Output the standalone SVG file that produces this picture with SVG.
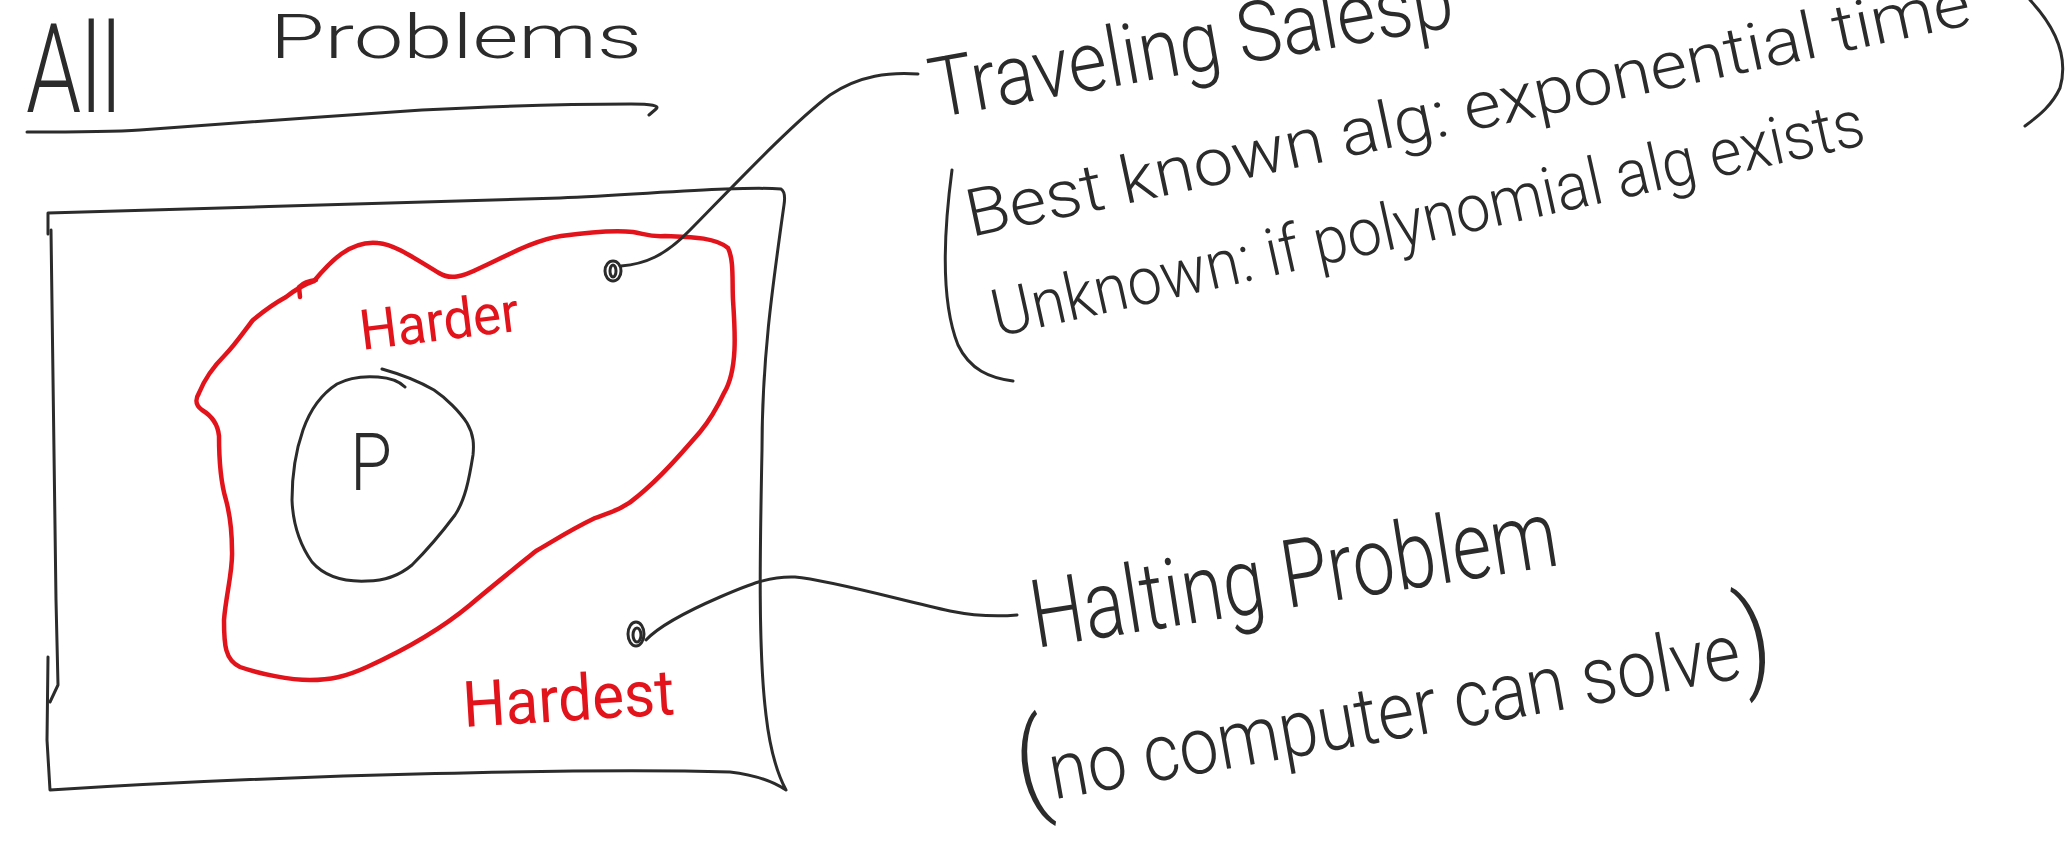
<svg xmlns="http://www.w3.org/2000/svg" width="2068" height="847" viewBox="0 0 2068 847">
<style>
.ink{fill:none;stroke:#2b2b2b;stroke-width:3;stroke-linecap:round;stroke-linejoin:round}
.red{fill:none;stroke:#e3131b;stroke-width:4.5;stroke-linecap:round;stroke-linejoin:round}
.t{font-family:Roboto,"Liberation Sans",sans-serif;font-weight:300;fill:#2b2b2b}
.tr{font-family:Roboto,"Liberation Sans",sans-serif;font-weight:400;fill:#e3131b}
</style>
<rect width="2068" height="847" fill="#ffffff"/>
<g id="title">
<text class="t" x="26" y="112" font-size="124" textLength="95" lengthAdjust="spacingAndGlyphs">All</text>
<text class="t" x="270" y="58" font-size="62" textLength="372" lengthAdjust="spacingAndGlyphs">Problems</text>
<path class="ink" d="M 27 132 C 80 132, 110 132, 140 130 C 220 124, 330 116, 422 110 C 500 106, 580 104, 631 104 Q 662 104 656 109 L 649 115"/>
</g>
<g id="all-problems-box">
<path class="ink" d="M 48 234 L 48 213 C 200 208, 450 202, 560 198 C 650 194, 740 186, 781 189 Q 786 192 784 205 C 772 290, 762 360, 762 450 C 760 550, 758 650, 766 715 C 770 750, 778 775, 786 790 Q 765 776, 730 772 C 600 768, 300 774, 50 790 L 47 740 L 48 657"/>
<path class="ink" d="M 51 230 C 53 330, 55 450, 56 600 L 58 685 L 50 702"/>
</g>
<g id="harder-region">
<path class="red" d="M 314 281 C 330 262, 350 240, 378 243 C 395 244, 420 262, 439 273 C 450 280, 462 277, 480 268 C 510 254, 535 240, 561 236 C 590 232, 615 230, 633 232 C 645 234, 650 237, 665 236 C 690 237, 715 237, 728 248 C 734 260, 732 280, 733 300 C 735 330, 738 370, 724 393 C 716 410, 710 420, 700 432 C 680 455, 660 478, 638 496 C 625 508, 612 512, 595 518 C 570 530, 555 540, 536 551 C 510 572, 490 588, 470 605 C 440 630, 400 652, 367 667 C 345 677, 330 680, 310 680 C 290 680, 260 674, 240 667 C 225 660, 224 645, 224 620 C 226 595, 233 570, 232 551 C 232 530, 230 515, 226 500 C 220 480, 219 460, 219 436 C 218 425, 212 416, 202 410 C 194 404, 196 398, 199 393 C 205 378, 215 365, 225 355 C 235 345, 245 330, 253 320 C 265 310, 275 303, 286 297 C 295 290, 305 284, 314 281"/>
<path class="red" d="M 300 297 L 299 287 Q 305 281 316 280"/>
<text class="tr" font-size="56" textLength="160" lengthAdjust="spacingAndGlyphs" transform="translate(362,350) rotate(-7)">Harder</text>
</g>
<g id="p-class">
<path class="ink" d="M 382 369 C 400 374, 420 382, 434 390 C 446 398, 460 412, 467 423 C 474 435, 474 445, 473 455 C 469 480, 465 500, 455 515 C 440 535, 425 552, 412 565 C 400 575, 385 581, 367 581 C 345 582, 325 577, 312 562 C 300 545, 293 525, 292 500 C 292 470, 296 450, 303 430 C 310 410, 320 395, 337 384 C 350 377, 365 376, 378 377 C 392 378, 400 382, 405 387"/>
<text class="t" x="350" y="490" font-size="80" textLength="42" lengthAdjust="spacingAndGlyphs">P</text>
</g>
<g id="hardest-label">
<text class="tr" font-size="64" textLength="212" lengthAdjust="spacingAndGlyphs" transform="translate(464,727) rotate(-3.5)">Hardest</text>
</g>
<g id="tsp-point">
<ellipse class="ink" cx="613" cy="271" rx="8" ry="10" stroke-width="5"/>
<ellipse class="ink" cx="613" cy="271" rx="3" ry="6"/>
</g>
<g id="halting-point">
<ellipse class="ink" cx="636" cy="634" rx="8" ry="12"/>
<ellipse class="ink" cx="637" cy="635" rx="4" ry="7"/>
</g>
<g id="connectors">
<path class="ink" d="M 621 266 C 645 264, 665 256, 690 230 C 720 200, 790 125, 830 95 C 860 75, 890 72, 918 74"/>
<path class="ink" d="M 646 640 C 660 625, 690 610, 720 597 C 750 584, 770 576, 795 577 C 830 580, 900 600, 950 611 C 975 616, 995 617, 1017 615"/>
</g>
<g id="tsp-label">
<text class="t" font-size="84" textLength="530" lengthAdjust="spacingAndGlyphs" transform="translate(935,118) rotate(-10)">Traveling Salesp</text>
<path class="ink" d="M 952 170 C 944 230, 940 300, 958 345 C 970 370, 990 378, 1013 381"/>
<text class="t" font-size="66" textLength="1025" lengthAdjust="spacingAndGlyphs" transform="translate(971,237) rotate(-12)">Best known alg: exponential time</text>
<text class="t" font-size="66" textLength="892" lengthAdjust="spacingAndGlyphs" transform="translate(997,337) rotate(-12.5)">Unknown: if polynomial alg exists</text>
<path class="ink" d="M 2030 0 C 2058 30, 2068 60, 2060 88 C 2052 105, 2040 115, 2025 126"/>
</g>
<g id="halting-label">
<text class="t" font-size="95" textLength="532" lengthAdjust="spacingAndGlyphs" transform="translate(1036,648) rotate(-9)">Halting Problem</text>
<text class="t" font-size="80" textLength="766" lengthAdjust="spacingAndGlyphs" transform="translate(1022,805) rotate(-10)"><tspan font-size="115">(</tspan>no computer can solve<tspan font-size="115">)</tspan></text>
</g>
</svg>
